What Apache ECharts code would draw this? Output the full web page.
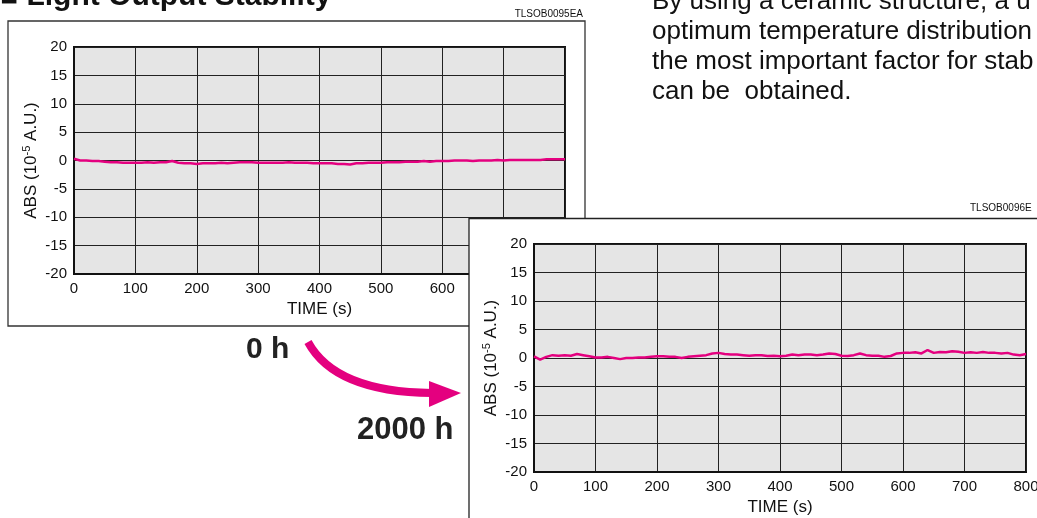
<!DOCTYPE html>
<html>
<head>
<meta charset="utf-8">
<script src="https://cdn.jsdelivr.net/npm/echarts@6/dist/echarts.min.js"></script>
<style>
html,body{margin:0;padding:0;background:#fff;}
#c{width:1037px;height:518px;}
</style>
</head>
<body>
<div id="c"></div>
<script>
// ---- data ----
var TIME = [0,10,20,30,40,50,60,70,80,90,100,110,120,130,140,150,160,170,180,190,200,
  210,220,230,240,250,260,270,280,290,300,310,320,330,340,350,360,370,380,390,400,
  410,420,430,440,450,460,470,480,490,500,510,520,530,540,550,560,570,580,590,600,
  610,620,630,640,650,660,670,680,690,700,710,720,730,740,750,760,770,780,790,800];
var ABS_0H = [0.3,0.0,0.0,-0.1,-0.1,-0.2,-0.3,-0.3,-0.4,-0.4,-0.4,-0.4,-0.3,-0.4,-0.3,-0.3,-0.1,-0.4,-0.5,-0.5,-0.6,
  -0.5,-0.5,-0.5,-0.4,-0.5,-0.4,-0.3,-0.3,-0.3,-0.4,-0.4,-0.4,-0.4,-0.4,-0.3,-0.4,-0.4,-0.4,-0.5,-0.5,
  -0.5,-0.5,-0.6,-0.6,-0.7,-0.5,-0.5,-0.4,-0.4,-0.4,-0.3,-0.3,-0.3,-0.2,-0.2,-0.2,-0.1,-0.2,-0.1,-0.1,
  -0.1,0.0,0.0,0.0,-0.1,0.0,0.0,0.0,0.1,0.0,0.1,0.1,0.1,0.1,0.1,0.1,0.2,0.2,0.2,0.2];
var ABS_2000H = [0.3,-0.3,0.2,0.5,0.4,0.5,0.4,0.7,0.5,0.3,0.1,0.1,0.2,0.0,-0.2,0.0,0.0,0.1,0.1,0.2,0.3,
  0.3,0.2,0.2,0.0,0.2,0.3,0.4,0.5,0.8,0.9,0.7,0.6,0.6,0.5,0.4,0.5,0.5,0.35,0.4,0.3,
  0.4,0.6,0.5,0.6,0.6,0.5,0.6,0.8,0.7,0.4,0.35,0.5,0.8,0.5,0.4,0.4,0.2,0.35,0.8,0.9,
  0.9,1.0,0.8,1.4,0.9,1.05,1.0,1.2,1.1,0.9,1.0,0.9,1.05,0.9,0.9,0.8,0.9,0.6,0.5,0.7];
var X_TICKS = {min:0, max:800, step:100};
var Y_TICKS = {min:-20, max:20, step:5};
var TITLE = '\u25A0 Light Output Stability';
var BODY_LINES = ['By using a ceramic structure, a u', 'optimum temperature distribution', 'the most important factor for stab', 'can be  obtained.'];
var CODE_1 = 'TLSOB0095EA', CODE_2 = 'TLSOB0096E';
var LABEL_0 = '0 h', LABEL_2000 = '2000 h';
var X_NAME = 'TIME (s)';

function pairs(xs, ys){ return xs.map(function(x,i){ return [x, ys[i]]; }); }

var FONT = '"Liberation Sans", Arial, Helvetica, sans-serif';
var MAG = '#e4007f';

function xAx(idx, z){
  return {type:'value', gridIndex:idx, min:X_TICKS.min, max:X_TICKS.max, interval:X_TICKS.step, z:z,
    name:X_NAME, nameLocation:'middle', nameGap:27,
    nameTextStyle:{fontFamily:FONT, fontSize:17, color:'#111'},
    axisLine:{show:true, onZero:false, lineStyle:{color:'#111', width:2}},
    axisTick:{show:false},
    axisLabel:{fontFamily:FONT, fontSize:15, color:'#111', margin:7},
    splitLine:{show:true, lineStyle:{color:'#222', width:1}}};
}
function yAx(idx, z){
  return {type:'value', gridIndex:idx, min:Y_TICKS.min, max:Y_TICKS.max, interval:Y_TICKS.step, z:z,
    name:'{a|ABS (10}{s|-5}{a| A.U.)}', nameLocation:'middle', nameGap:33,
    nameTextStyle:{fontFamily:FONT, color:'#111', rich:{
      a:{fontFamily:FONT, fontSize:17, color:'#111', lineHeight:20},
      s:{fontFamily:FONT, fontSize:11, color:'#111', lineHeight:20, verticalAlign:'top'}}},
    axisLine:{show:true, onZero:false, lineStyle:{color:'#111', width:2}},
    axisTick:{show:false},
    axisLabel:{fontFamily:FONT, fontSize:15, color:'#111', margin:7},
    splitLine:{show:true, lineStyle:{color:'#222', width:1}}};
}

var graphics = [
  {type:'text', x:0, y:-18, z:50, style:{text:TITLE, fontFamily:FONT, fontSize:30, fontWeight:'bold', fill:'#111'}},
  {type:'text', x:583, y:9, z:50, style:{text:CODE_1, fontFamily:FONT, fontSize:10, fill:'#111', textAlign:'right'}},
  {type:'rect', z:0, shape:{x:8, y:21, width:577, height:305}, style:{fill:'#fff', stroke:'#333', lineWidth:1.3}},
  {type:'rect', z:10, shape:{x:469, y:218.5, width:600, height:320}, style:{fill:'#fff', stroke:'#222', lineWidth:1.3}},
  {type:'text', x:970, y:203, z:50, style:{text:CODE_2, fontFamily:FONT, fontSize:10, fill:'#111'}},
  {type:'text', x:246, y:335, z:50, style:{text:LABEL_0, fontFamily:FONT, fontSize:30, fontWeight:'bold', fill:'#222'}},
  {type:'text', x:357, y:415, z:50, style:{text:LABEL_2000, fontFamily:FONT, fontSize:31, fontWeight:'bold', fill:'#222'}},
  {type:'bezierCurve', z:50, shape:{x1:308, y1:342, cpx1:335, cpy1:392, x2:432, y2:393}, style:{fill:null, stroke:MAG, lineWidth:8}},
  {type:'polygon', z:50, shape:{points:[[429,381],[461,393],[429,407]]}, style:{fill:MAG}}
];
BODY_LINES.forEach(function(t,i){
  graphics.push({type:'text', x:652, y:-11 + i*30, z:50, style:{text:t, fontFamily:FONT, fontSize:26, fill:'#111'}});
});

var chart = echarts.init(document.getElementById('c'), null, {renderer:'canvas'});
chart.setOption({
  animation:false,
  backgroundColor:'#fff',
  graphic:{elements:graphics},
  grid:[
    {left:74, top:47, width:491, height:227, z:1, show:true, outerBoundsMode:'none', backgroundColor:'#e5e5e5', borderColor:'#111', borderWidth:2},
    {left:534, top:244, width:492, height:228, z:11, show:true, outerBoundsMode:'none', backgroundColor:'#e5e5e5', borderColor:'#111', borderWidth:2}
  ],
  xAxis:[xAx(0,2), xAx(1,12)],
  yAxis:[yAx(0,2), yAx(1,12)],
  series:[
    {type:'line', xAxisIndex:0, yAxisIndex:0, z:3, data:pairs(TIME, ABS_0H), showSymbol:false, lineStyle:{color:MAG, width:2.5}},
    {type:'line', xAxisIndex:1, yAxisIndex:1, z:13, data:pairs(TIME, ABS_2000H), showSymbol:false, lineStyle:{color:MAG, width:2.5}}
  ]
});
</script>
</body>
</html>
